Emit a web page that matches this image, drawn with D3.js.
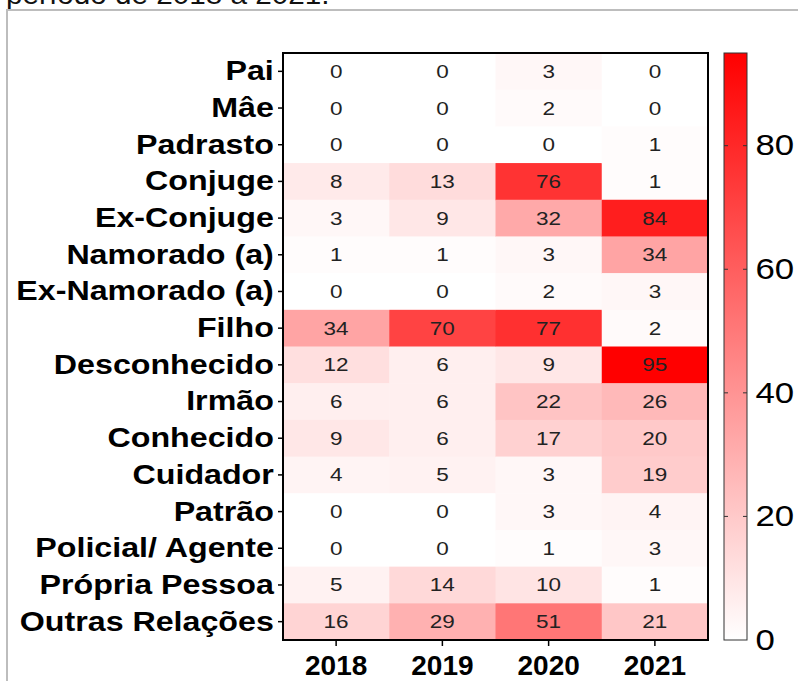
<!DOCTYPE html>
<html>
<head>
<meta charset="utf-8">
<script src="https://cdn.jsdelivr.net/npm/d3@7"></script>
<style>
	body { margin: 0; background: #fff; }
	text { font-family: "Liberation Sans", Arial, sans-serif; }
</style>
</head>
<body>
<div id="canvas_heatmap"></div>
<script>
// Relationship categories (rows, top to bottom).
const relacoes = ["Pai", "Mâe", "Padrasto", "Conjuge", "Ex-Conjuge", "Namorado (a)",
	"Ex-Namorado (a)", "Filho", "Desconhecido", "Irmão", "Conhecido", "Cuidador",
	"Patrão", "Policial/ Agente", "Própria Pessoa", "Outras Relações"];

// Years (columns).
const anos = ["2018", "2019", "2020", "2021"];

// Values per year, same order as relacoes.
const v2018 = [0, 0, 0, 8, 3, 1, 0, 34, 12, 6, 9, 4, 0, 0, 5, 16];
const v2019 = [0, 0, 0, 13, 9, 1, 0, 70, 6, 6, 6, 5, 0, 0, 14, 29];
const v2020 = [3, 2, 0, 76, 32, 3, 2, 77, 9, 22, 17, 3, 3, 1, 10, 51];
const v2021 = [0, 0, 1, 1, 84, 34, 3, 2, 95, 26, 20, 19, 4, 3, 1, 21];

// Colorbar ticks.
const escalaTicks = [0, 20, 40, 60, 80];

// Build cells list from the arrays.
let series = [v2018, v2019, v2020, v2021];
let cells = [];
anos.forEach((ano, j) => {
	relacoes.forEach((rel, i) => {
		cells.push({ano: ano, rel: rel, value: series[j][i]});
	});
});

let width = 798;
let height = 681;

// Plot area.
let plotLeft = 283, plotRight = 708, plotTop = 53, plotBottom = 640;

// The original picture is a bit stretched sideways, text too.
let stretch = 1.15;

let svg = d3.select("#canvas_heatmap")
	.append("svg")
	.attr("width", width)
	.attr("height", height);

// Caption cut at the top of the picture.
svg.append("text")
	.attr("transform", "translate(6,4) scale(1.1,1)")
	.attr("font-size", "27px")
	.attr("fill", "#111")
	.text("período de 2018 a 2021.");

// Grey frame around the figure.
svg.append("rect")
	.attr("x", 7)
	.attr("y", 10)
	.attr("width", width + 10)
	.attr("height", height + 10)
	.attr("fill", "none")
	.attr("stroke", "#bdbdbd")
	.attr("stroke-width", 2);

let x = d3.scaleBand().domain(anos).range([plotLeft, plotRight]);
let y = d3.scaleBand().domain(relacoes).range([plotTop, plotBottom]);
let color = d3.scaleLinear().domain([0, 95]).range(["#ffffff", "#ff0000"]);

// Cells.
svg.selectAll(".cell")
	.data(cells)
	.enter()
	.append("rect")
	  .attr("class", "cell")
	  .attr("x", d => x(d.ano))
	  .attr("y", d => y(d.rel))
	  .attr("width", x.bandwidth() + 0.5)
	  .attr("height", y.bandwidth() + 0.5)
	  .attr("fill", d => color(d.value));

// Cell values.
svg.selectAll(".cell_text")
	.data(cells)
	.enter()
	.append("text")
	  .attr("transform", d => "translate(" + (x(d.ano) + x.bandwidth() / 2) + "," + (y(d.rel) + y.bandwidth() / 2) + ") scale(1.25,1)")
	  .attr("dy", "0.36em")
	  .attr("text-anchor", "middle")
	  .attr("font-size", "18px")
	  .attr("fill", "#222")
	  .text(d => d.value);

// Frame of the heatmap.
svg.append("rect")
	.attr("x", plotLeft)
	.attr("y", plotTop)
	.attr("width", plotRight - plotLeft)
	.attr("height", plotBottom - plotTop)
	.attr("fill", "none")
	.attr("stroke", "#000")
	.attr("stroke-width", 2);

// Y axis with row labels.
let yAxis = svg.append("g")
	.attr("transform", "translate(" + plotLeft + ",0)")
	.call(d3.axisLeft(y).tickSize(5).tickPadding(3));
yAxis.select(".domain").remove();
yAxis.selectAll("line").attr("stroke", "#000").attr("stroke-width", 1.5);
yAxis.selectAll("text")
	.attr("fill", "#000")
	.attr("font-size", "28px")
	.attr("font-weight", "bold")
	.attr("font-family", "'Liberation Sans', Arial, sans-serif")
	.attr("transform", "scale(" + stretch + ",1)");

// X axis with years.
let xAxis = svg.append("g")
	.attr("transform", "translate(0," + plotBottom + ")")
	.call(d3.axisBottom(x).tickSize(6).tickPadding(9));
xAxis.select(".domain").remove();
xAxis.selectAll("line").attr("stroke", "#000").attr("stroke-width", 1.5);
xAxis.selectAll("text")
	.attr("fill", "#000")
	.attr("font-size", "28px")
	.attr("font-weight", "bold")
	.attr("font-family", "'Liberation Sans', Arial, sans-serif");

// Colorbar.
let barX = 724, barW = 23;
let yc = d3.scaleLinear().domain([0, 95]).range([plotBottom, plotTop]);

let grad = svg.append("defs")
	.append("linearGradient")
	  .attr("id", "grad")
	  .attr("x1", 0).attr("y1", 1)
	  .attr("x2", 0).attr("y2", 0);
grad.selectAll("stop")
	.data([0, 95])
	.enter()
	.append("stop")
	  .attr("offset", d => d / 95)
	  .attr("stop-color", d => color(d));

svg.append("rect")
	.attr("x", barX)
	.attr("y", plotTop)
	.attr("width", barW)
	.attr("height", plotBottom - plotTop)
	.attr("fill", "url(#grad)")
	.attr("stroke", "#333")
	.attr("stroke-width", 1);

// Small inner ticks on both sides of the colorbar.
svg.selectAll(".cb_tick_l")
	.data(escalaTicks.slice(1))
	.enter()
	.append("line")
	  .attr("x1", barX).attr("x2", barX + 4)
	  .attr("y1", d => yc(d)).attr("y2", d => yc(d))
	  .attr("stroke", "#333");
svg.selectAll(".cb_tick_r")
	.data(escalaTicks.slice(1))
	.enter()
	.append("line")
	  .attr("x1", barX + barW - 4).attr("x2", barX + barW)
	  .attr("y1", d => yc(d)).attr("y2", d => yc(d))
	  .attr("stroke", "#333");

let cAxis = svg.append("g")
	.attr("transform", "translate(" + (barX + barW) + ",0)")
	.call(d3.axisRight(yc).tickValues(escalaTicks).tickSize(0).tickPadding(7));
cAxis.select(".domain").remove();
cAxis.selectAll("text")
	.attr("fill", "#000")
	.attr("font-size", "29px")
	.attr("font-family", "'Liberation Sans', Arial, sans-serif")
	.attr("transform", "scale(1.2,1)");
</script>
</body>
</html>
